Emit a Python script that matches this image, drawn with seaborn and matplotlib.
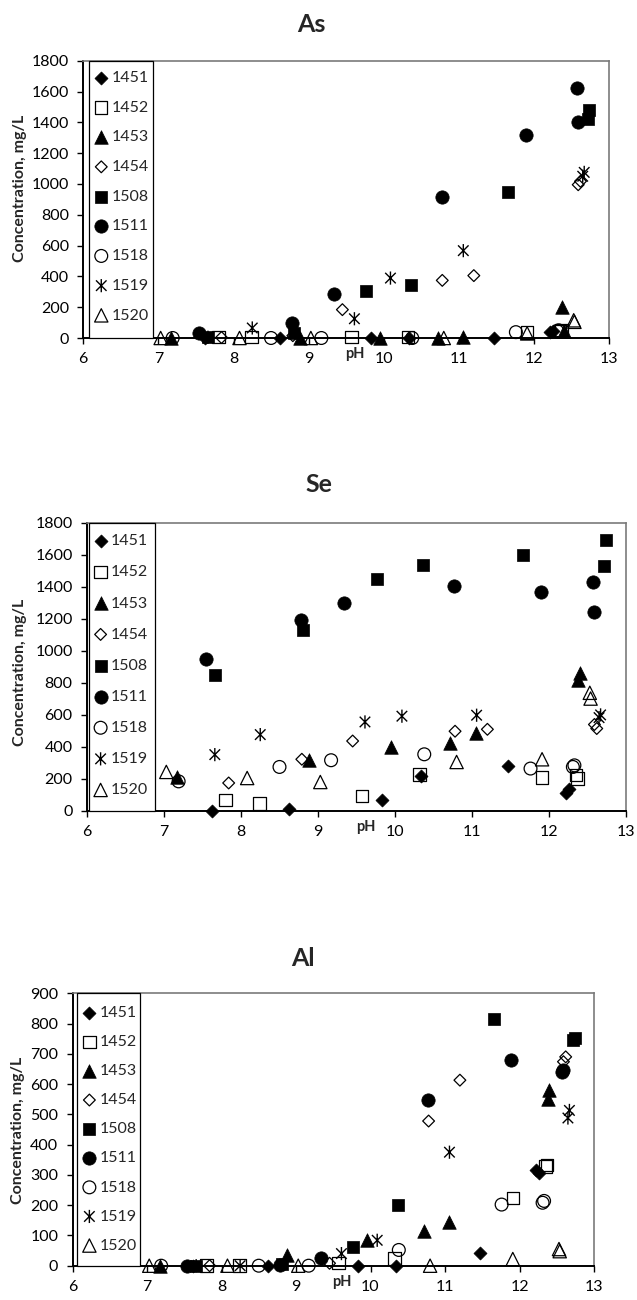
import numpy as np
import pandas as pd
import matplotlib
matplotlib.use("Agg")
import matplotlib.pyplot as plt
import seaborn as sns
from matplotlib.path import Path
from matplotlib.patches import Rectangle

# ---------------- data ----------------
samples = ["1451", "1452", "1453", "1454", "1508", "1511", "1518", "1519", "1520"]

ph_1451 = [7.62, 8.62, 9.83, 10.34, 11.47, 12.22, 12.26]
ph_1452 = [7.80, 8.24, 9.57, 10.32, 11.91, 12.35, 12.37]
ph_1453 = [7.17, 8.88, 9.95, 10.72, 11.05, 12.38, 12.40]
ph_1454 = [7.84, 8.79, 9.45, 10.78, 11.20, 12.59, 12.62]
ph_1508 = [7.66, 8.81, 9.77, 10.37, 11.66, 12.72, 12.74]
ph_1511 = [7.54, 8.78, 9.34, 10.77, 11.89, 12.57, 12.59]
ph_1518 = [7.19, 8.50, 9.17, 10.38, 11.76, 12.31, 12.33]
ph_1519 = [7.66, 8.25, 9.61, 10.09, 11.06, 12.65, 12.67]
ph_1520 = [7.03, 8.08, 9.03, 10.80, 11.91, 12.53, 12.54]

as_1451 = [0, 0, 0, 0, 0, 38, 45]
as_1452 = [5, 5, 5, 5, 35, 45, 50]
as_1453 = [0, 0, 0, 0, 5, 200, 45]
as_1454 = [3, 15, 184, 374, 405, 995, 1017]
as_1508 = [5, 30, 307, 342, 945, 1420, 1480]
as_1511 = [30, 100, 285, 913, 1320, 1620, 1400]
as_1518 = [0, 0, 0, 0, 38, 45, 50]
as_1519 = [5, 65, 125, 389, 567, 1050, 1075]
as_1520 = [0, 0, 0, 0, 30, 115, 105]

se_1451 = [0, 15, 67, 219, 279, 110, 135]
se_1452 = [67, 46, 92, 229, 208, 223, 202]
se_1453 = [212, 317, 400, 427, 490, 815, 860]
se_1454 = [175, 323, 437, 498, 510, 540, 515]
se_1508 = [848, 1129, 1448, 1535, 1598, 1529, 1692]
se_1511 = [946, 1192, 1300, 1406, 1369, 1431, 1240]
se_1518 = [185, 275, 317, 354, 265, 275, 285]
se_1519 = [352, 477, 556, 592, 598, 583, 600]
se_1520 = [244, 206, 181, 306, 323, 738, 702]

al_1451 = [0, 0, 0, 0, 41, 315, 305]
al_1452 = [0, 0, 8, 24, 224, 328, 332]
al_1453 = [0, 35, 84, 116, 144, 552, 580]
al_1454 = [0, 0, 8, 478, 613, 674, 690]
al_1508 = [0, 5, 62, 199, 814, 745, 751]
al_1511 = [0, 3, 24, 547, 679, 640, 645]
al_1518 = [0, 0, 0, 52, 202, 208, 214]
al_1519 = [0, 0, 40, 84, 375, 488, 513]
al_1520 = [0, 0, 0, 0, 22, 55, 48]

elements = ["As", "Se", "Al"]
y_max = [1800, 1800, 900]
y_step = [200, 200, 100]
x_ticks = [6, 7, 8, 9, 10, 11, 12, 13]

ph_lists = [ph_1451, ph_1452, ph_1453, ph_1454, ph_1508, ph_1511, ph_1518, ph_1519, ph_1520]
as_lists = [as_1451, as_1452, as_1453, as_1454, as_1508, as_1511, as_1518, as_1519, as_1520]
se_lists = [se_1451, se_1452, se_1453, se_1454, se_1508, se_1511, se_1518, se_1519, se_1520]
al_lists = [al_1451, al_1452, al_1453, al_1454, al_1508, al_1511, al_1518, al_1519, al_1520]

rows = []
for el, lists in zip(elements, [as_lists, se_lists, al_lists]):
    for smp, phs, vals in zip(samples, ph_lists, lists):
        for p, v in zip(phs, vals):
            rows.append({"element": el, "sample": smp, "pH": p, "conc": v})
df = pd.DataFrame(rows)

# ---------------- styles ----------------
sns.set_style("white")
plt.rcParams["font.family"] = ["Lato", "DejaVu Sans"]

star = Path([(0, -1), (0, 1), (-0.8, -0.8), (0.8, 0.8), (-0.8, 0.8), (0.8, -0.8)],
            [Path.MOVETO, Path.LINETO, Path.MOVETO, Path.LINETO, Path.MOVETO, Path.LINETO])

mstyle = {
    "1451": dict(marker="D", s=44, facecolor="black", linewidth=0.5),
    "1452": dict(marker="s", s=80, facecolor="none", linewidth=0.9),
    "1453": dict(marker="^", s=95, facecolor="black", linewidth=0.5),
    "1454": dict(marker="D", s=36, facecolor="none", linewidth=0.9),
    "1508": dict(marker="s", s=84, facecolor="black", linewidth=0.5),
    "1511": dict(marker="o", s=92, facecolor="black", linewidth=0.5),
    "1518": dict(marker="o", s=85, facecolor="none", linewidth=0.9),
    "1519": dict(marker=star, s=90, facecolor="none", linewidth=1.0),
    "1520": dict(marker="^", s=92, facecolor="none", linewidth=0.9),
}

W, H = 637, 1300
fig = plt.figure(figsize=(W / 100, H / 100), dpi=100)

# panel geometry in pixels: left, right, top, bottom
geom = [(83.3, 609, 60.7, 338), (87, 626, 522.7, 811), (72.5, 594, 993.3, 1265.7)]
title_pos = [(311, 24), (319, 485), (303, 959)]
ylab_pos = [(20, 188), (20, 672), (18, 1130)]
leg_box = [(0.0114, 0.132), (0.003, 0.126), (0.0094, 0.129)]
leg_spacing = [30.7, 32.1, 30.1]
leg_first = [17.6, 19.0, 20.0]

fs = 11.5
fs_px = fs * 100 / 72

for i, el in enumerate(elements):
    L, R, T, B = geom[i]
    ax = fig.add_axes([L / W, 1 - B / H, (R - L) / W, (B - T) / H])
    sub = df[df["element"] == el]
    for smp in samples:
        d = sub[sub["sample"] == smp]
        st = mstyle[smp]
        sns.scatterplot(data=d, x="pH", y="conc", ax=ax, color="black",
                        edgecolor="black", label=smp, clip_on=False, zorder=4, **st)
    ax.set_xlim(6, 13)
    ax.set_ylim(0, y_max[i])
    ax.set_xticks(x_ticks)
    ax.set_yticks(np.arange(0, y_max[i] + 1, y_step[i]))
    ax.set_xlabel("")
    ax.set_ylabel("")
    ax.tick_params(axis="both", direction="out", length=4.3, width=1.0, pad=6.0,
                   labelsize=fs, colors="black", bottom=True, left=True)
    for sp in ["left", "bottom"]:
        ax.spines[sp].set_color("black")
        ax.spines[sp].set_linewidth(1.4)
    for sp in ["top", "right"]:
        ax.spines[sp].set_color("#7a7a7a")
        ax.spines[sp].set_linewidth(1.2)

    # legend box spanning the full plot height
    x0, x1 = leg_box[i]
    ax.add_patch(Rectangle((x0, 0), x1 - x0, 1, transform=ax.transAxes,
                           facecolor="white", edgecolor="black", linewidth=0.9,
                           zorder=2.6, clip_on=False))
    ax_h = B - T
    entry_h = fs_px * 0.95
    lsp = (leg_spacing[i] - entry_h) / fs_px
    bpad = 0.3
    top_off = leg_first[i] - entry_h / 2 - bpad * fs_px
    leg = ax.legend(loc="upper left", bbox_to_anchor=(x0, 1 - top_off / ax_h),
                    borderaxespad=0, borderpad=bpad, frameon=False,
                    labelspacing=lsp, handlelength=0.9, handletextpad=0.2,
                    fontsize=fs, scatterpoints=1)
    leg.set_zorder(5)

    ax.annotate("pH", xy=(9.62, 0), xycoords=("data", "axes fraction"),
                xytext=(0, -11.5), textcoords="offset points", ha="center",
                va="center", fontsize=fs - 1, fontweight="bold")

    tx, ty = title_pos[i]
    fig.text(tx / W, 1 - ty / H, el, ha="center", va="center",
             fontsize=18, fontweight="bold")
    lx, ly = ylab_pos[i]
    fig.text(lx / W, 1 - ly / H, "Concentration, mg/L",
             rotation=90, ha="center", va="center", fontsize=fs, fontweight="bold")

fig.savefig("out.png", dpi=100)
